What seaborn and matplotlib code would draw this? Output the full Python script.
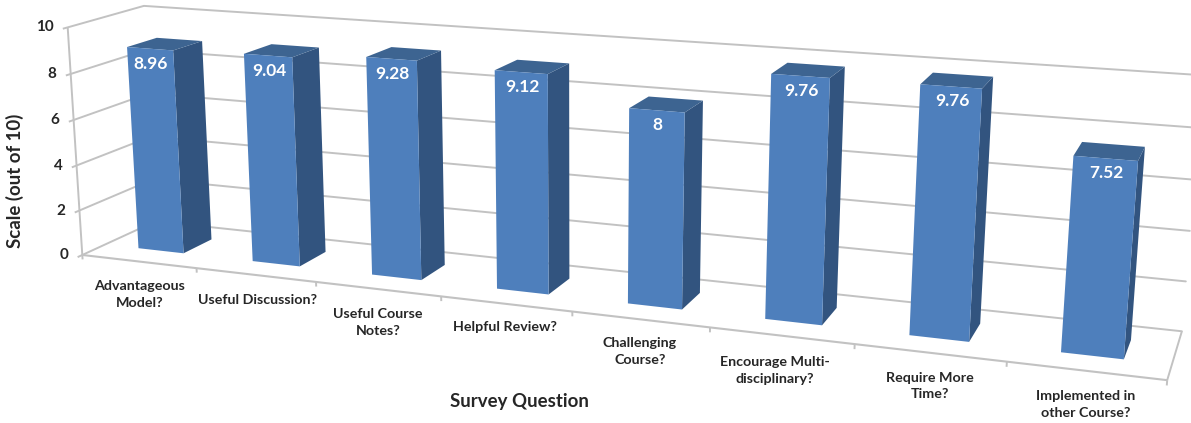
import numpy as np
import pandas as pd
import matplotlib
matplotlib.use("Agg")
import matplotlib.pyplot as plt
from matplotlib.patches import Polygon
from matplotlib.transforms import Transform, IdentityTransform
import seaborn as sns

# ---------- data ----------
questions = ["Advantageous\nModel?", "Useful Discussion?", "Useful Course\nNotes?", "Helpful Review?",
             "Challenging\nCourse?", "Encourage Multi-\ndisciplinary?", "Require More\nTime?",
             "Implemented in\nother Course?"]
scores = [8.96, 9.04, 9.28, 9.12, 8, 9.76, 9.76, 7.52]
score_labels = ["8.96", "9.04", "9.28", "9.12", "8", "9.76", "9.76", "7.52"]
y_ticks = [0, 2, 4, 6, 8, 10]
y_title = "Scale (out of 10)"
x_title = "Survey Question"

# ---------- layout ----------
W, H = 1191, 423
label_centres = [(140, 294.5), (257, 300), (378, 322.5), (505, 327), (640, 351.5), (775, 370.5), (930, 386), (1086, 404.5)]
FRONT, BACK = 0.30, 0.70      # depth of the bars inside the floor
BAR_W = 0.40
GRID = "#C2C2C2"
C_FRONT, C_SIDE, C_TOP = "#4E7FBC", "#32547F", "#3D6491"
C_TEXT = "#262626"

# camera calibration: (category pos, depth, height) -> picture pixel
anchors = [((0, 0, 0), (84, 254)), ((8, 0, 0), (1168, 380)), ((0, 1, 0), (154, 222)), ((8, 1, 0), (1182, 329)),
           ((0, 1, 10), (145, 7)), ((8, 1, 10), (1202, 76)), ((0, 0, 10), (67, 28)),
           ((1, 0, 0), (197, 270)), ((2, 0, 0), (317, 283)), ((3, 0, 0), (442, 297)), ((4, 0, 0), (572, 312)),
           ((5, 0, 0), (709, 328)), ((6, 0, 0), (854, 345)), ((7, 0, 0), (1006, 362)),
           ((8, 1, 2), (1186, 281)), ((8, 1, 4), (1190, 231)), ((8, 1, 6), (1194, 179)), ((8, 1, 8), (1198, 128)),
           ((0, 0, 2), (80, 209)), ((0, 0, 4), (75, 164)), ((0, 0, 6), (73, 119)), ((0, 0, 8), (71, 73))]
A, b = [], []
for (X, Y, Z), (u, v) in anchors:
    A.append([X, Y, Z, 1, 0, 0, 0, 0, -u * X, -u * Y, -u * Z]); b.append(u)
    A.append([0, 0, 0, 0, X, Y, Z, 1, -v * X, -v * Y, -v * Z]); b.append(v)
p = np.linalg.lstsq(np.array(A, float), np.array(b, float), rcond=None)[0]
P = np.append(p, 1.0).reshape(3, 4)


def project(X, Y, Z):
    """Return picture pixels (origin top-left)."""
    X, Y, Z = np.broadcast_arrays(np.asarray(X, float), np.asarray(Y, float), np.asarray(Z, float))
    q = P @ np.stack([X, Y, Z, np.ones_like(X)])
    return q[0] / q[2], q[1] / q[2]


def to_display(X, Y, Z):
    u, v = project(X, Y, Z)
    return np.column_stack([np.atleast_1d(u), H - np.atleast_1d(v)])


class Plane(Transform):
    """Maps the axes' data (category, score) on to a slanted plane at a given depth."""
    input_dims = output_dims = 2
    has_inverse = False
    is_separable = False

    def __init__(self, plane_depth):
        super().__init__()
        self.plane_depth = plane_depth

    def transform_non_affine(self, values):
        values = np.asarray(values, float)
        return to_display(values[:, 0] + 0.5, self.plane_depth, values[:, 1])


sns.set_theme(style="white")
plt.rcParams["font.family"] = ["Lato", "DejaVu Sans"]
fig = plt.figure(figsize=(W / 100, H / 100), dpi=100, facecolor="white")
ax = fig.add_axes([0, 0, 1, 1])

df = pd.DataFrame({"question": questions, "score": scores})
sns.barplot(data=df, x="question", y="score", color=C_FRONT, saturation=1, width=BAR_W, ax=ax, zorder=5, errorbar=None)
ax.set_xlim(-0.5, 7.5)
ax.set_ylim(0, 10)
ax.axis("off")
identity = IdentityTransform()


def line3d(X, Y, Z, lw=1.4, color=GRID, z=1):
    ax.add_line(plt.Line2D(*to_display(X, Y, Z).T, transform=identity, color=color, lw=lw, zorder=z,
                           clip_on=False, solid_capstyle="butt"))


# back wall and left wall grid
for t in y_ticks:
    ax.plot([-0.5, 7.5], [t, t], transform=Plane(1.0), color=GRID, lw=1.4, zorder=1, clip_on=False)
    line3d([0, 0], [-0.06, 1], [t, t])
# outer frame
line3d([0, 0], [0, 0], [0, 10])
line3d([0, 8], [0, 0], [0, 0], lw=1.5)
line3d([8, 8], [0, 1], [0, 0])
for i in range(9):
    line3d([i, i], [0, 0], [0, -0.2])

# 3-D bars: front face from seaborn, the other faces from the same bar geometry
bars = list(ax.patches)
for bar in bars:
    x0, x1, v = bar.get_x(), bar.get_x() + bar.get_width(), bar.get_height()
    bar.set_transform(Plane(FRONT))
    bar.set_clip_on(False)
    bar.set_linewidth(0)
    side = to_display(x1 + 0.5, np.array([FRONT, BACK, BACK, FRONT]), np.array([0, 0, v, v]))
    top = to_display(np.array([x0, x1, x1, x0]) + 0.5, np.array([FRONT, FRONT, BACK, BACK]), v)
    ax.add_patch(Polygon(side, closed=True, transform=identity, fc=C_SIDE, ec="none", zorder=4, clip_on=False))
    ax.add_patch(Polygon(top, closed=True, transform=identity, fc=C_TOP, ec="none", zorder=4, clip_on=False))


def pix_text(x, y, s, **kw):
    fig.text(x / W, 1 - y / H, s, ha=kw.pop("ha", "center"), va=kw.pop("va", "center"), **kw)


for bar, lab in zip(bars, score_labels):
    cx = bar.get_x() + bar.get_width() / 2 + 0.5
    u, v = project(cx, FRONT, bar.get_height())
    pix_text(float(u) + 1, float(v) + 15, lab, color="white", fontsize=12.5, fontweight="bold", zorder=10)

for (x, y), q in zip(label_centres, questions):
    pix_text(x, y, q, color=C_TEXT, fontsize=10.3, fontweight="bold", linespacing=1.45)

for t in y_ticks:
    u, v = project(0, 0, t)
    pix_text(float(u) - 14, float(v), str(t), ha="right", color=C_TEXT, fontsize=11, fontweight="bold")

pix_text(15, 181, y_title, rotation=90, color=C_TEXT, fontsize=13.4, fontweight="bold")
pix_text(519, 401, x_title, color=C_TEXT, fontsize=13.4, fontweight="bold")

fig.savefig("out.png", dpi=100, facecolor="white")
